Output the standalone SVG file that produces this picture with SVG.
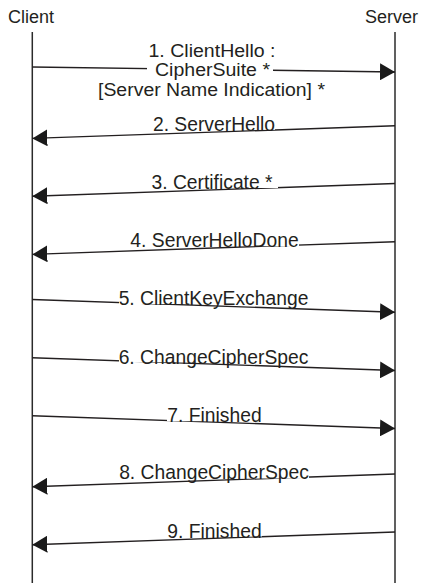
<svg xmlns="http://www.w3.org/2000/svg" width="423" height="583" viewBox="0 0 423 583">
  <style>
    .actor { font-family: "Liberation Sans", Arial, sans-serif; font-size: 18px; fill: #231f20; }
    .lifeline { stroke: #2b2b2b; stroke-width: 1.5; fill: none; }
    .msg { stroke: #231f20; stroke-width: 1.4; fill: none; marker-end: url(#head); }
    .lbl { font-family: "Liberation Sans", Arial, sans-serif; font-size: 19.3px; fill: #231f20; text-anchor: middle; }
    .lbl-stack { font-size: 17.5px; }
    .knock { fill: #ffffff; stroke: none; }
  </style>
  <defs>
    <marker id="head" markerUnits="userSpaceOnUse" viewBox="0 0 15 17" markerWidth="15" markerHeight="17" refX="15" refY="8.5" orient="auto">
      <path d="M0,0 L15,8.5 L0,17 Z" fill="#1a1a1a"/>
    </marker>
  </defs>
  <rect width="423" height="583" fill="#ffffff"/>

  <!-- participants -->
  <g id="client">
    <text class="actor" x="8" y="22.5">Client</text>
    <line class="lifeline" x1="32.3" y1="32" x2="32.3" y2="583"/>
  </g>
  <g id="server">
    <text class="actor" x="418" y="22.5" text-anchor="end">Server</text>
    <line class="lifeline" x1="395" y1="32" x2="395" y2="583"/>
  </g>

  <!-- messages: line, label background, label -->
  <g id="connectors">
    <g id="m1">
      <line class="msg" x1="32.3" y1="67" x2="395" y2="72"/>
      <rect class="knock" x="147" y="60" width="126" height="14.5"/>
      <text class="lbl lbl-stack" x="212" y="56.5" textLength="127" lengthAdjust="spacingAndGlyphs">1. ClientHello :</text>
      <text class="lbl lbl-stack" x="212.5" y="76" textLength="115" lengthAdjust="spacingAndGlyphs">CipherSuite *</text>
      <text class="lbl lbl-stack" x="211.5" y="95.5" textLength="227" lengthAdjust="spacingAndGlyphs">[Server Name Indication] *</text>
    </g>
    <g id="m2">
      <line class="msg" x1="395" y1="125.8" x2="32.3" y2="138.4"/>
      <rect class="knock" x="153" y="114.8" width="122" height="15"/>
      <text class="lbl" x="214" y="130.8">2. ServerHello</text>
    </g>
    <g id="m3">
      <line class="msg" x1="395" y1="183.5" x2="32.3" y2="196.3"/>
      <rect class="knock" x="152" y="173" width="126" height="15"/>
      <text class="lbl" x="212" y="189">3. Certificate *</text>
    </g>
    <g id="m4">
      <line class="msg" x1="395" y1="241.7" x2="32.3" y2="254.4"/>
      <rect class="knock" x="130" y="231.2" width="169" height="15"/>
      <text class="lbl" x="214.5" y="247.2">4. ServerHelloDone</text>
    </g>
    <g id="m5">
      <line class="msg" x1="32.3" y1="299.5" x2="395" y2="312.3"/>
      <rect class="knock" x="119" y="289.3" width="189" height="14.7"/>
      <text class="lbl" x="213.5" y="305.3">5. ClientKeyExchange</text>
    </g>
    <g id="m6">
      <line class="msg" x1="32.3" y1="357.7" x2="395" y2="370.5"/>
      <rect class="knock" x="119" y="347.5" width="189" height="14.8"/>
      <text class="lbl" x="213.5" y="363.5">6. ChangeCipherSpec</text>
    </g>
    <g id="m7">
      <line class="msg" x1="32.3" y1="415.8" x2="395" y2="428.5"/>
      <rect class="knock" x="167" y="405.7" width="95" height="15.5"/>
      <text class="lbl" x="214.5" y="421.7">7. Finished</text>
    </g>
    <g id="m8">
      <line class="msg" x1="395" y1="474" x2="32.3" y2="486.8"/>
      <rect class="knock" x="119" y="463.3" width="190" height="15.2"/>
      <text class="lbl" x="214" y="479.3">8. ChangeCipherSpec</text>
    </g>
    <g id="m9">
      <line class="msg" x1="395" y1="532" x2="32.3" y2="544.8"/>
      <rect class="knock" x="167" y="521.5" width="95" height="15"/>
      <text class="lbl" x="214.5" y="537.5">9. Finished</text>
    </g>
  </g>
</svg>
